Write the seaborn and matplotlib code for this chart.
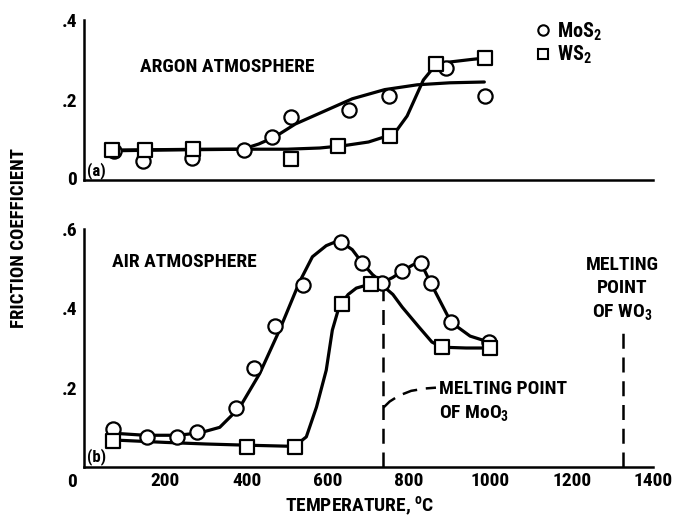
import matplotlib
matplotlib.use("Agg")
import matplotlib.pyplot as plt
from matplotlib import font_manager
from matplotlib.lines import Line2D
import seaborn as sns

# ---- measured friction data ------------------------------------------------
# (a) argon atmosphere
argon_mos2_t = [75, 145, 265, 393, 463, 510, 653, 751, 891, 987]
argon_mos2_f = [0.072, 0.048, 0.055, 0.074, 0.108, 0.158, 0.175, 0.21, 0.28, 0.21]
argon_ws2_t = [70, 150, 267, 510, 624, 753, 866, 987]
argon_ws2_f = [0.074, 0.076, 0.078, 0.052, 0.085, 0.11, 0.29, 0.305]

# (b) air atmosphere
air_mos2_t = [72, 154, 228, 279, 374, 419, 469, 538, 633, 685, 734, 783, 829, 853, 903, 996]
air_mos2_f = [0.096, 0.076, 0.076, 0.088, 0.15, 0.25, 0.355, 0.46, 0.567, 0.514,
              0.463, 0.494, 0.514, 0.464, 0.365, 0.315]
air_ws2_t = [72, 400, 518, 636, 707, 881, 1000]
air_ws2_f = [0.066, 0.05, 0.05, 0.41, 0.462, 0.302, 0.30]

# ---- faired curves through the data ----------------------------------------
argon_mos2_fit_t = [75, 200, 300, 390, 430, 470, 520, 580, 660, 740, 820, 900, 985]
argon_mos2_fit_f = [0.075, 0.076, 0.077, 0.077, 0.09, 0.108, 0.14, 0.167, 0.203,
                    0.226, 0.238, 0.243, 0.245]
argon_ws2_fit_t = [70, 200, 300, 400, 500, 580, 640, 700, 740, 770, 795, 815, 835,
                   855, 870, 900, 950, 987]
argon_ws2_fit_f = [0.073, 0.075, 0.076, 0.077, 0.077, 0.08, 0.086, 0.095, 0.108,
                   0.125, 0.16, 0.205, 0.25, 0.275, 0.288, 0.295, 0.301, 0.305]

air_mos2_fit_t = [75, 150, 230, 285, 334, 383, 432, 481, 530, 562, 596, 615, 633,
                  660, 685, 710, 734, 760, 783, 810, 829, 853, 903, 950, 996]
air_mos2_fit_f = [0.085, 0.08, 0.08, 0.086, 0.1, 0.15, 0.235, 0.345, 0.466, 0.53,
                  0.558, 0.566, 0.567, 0.548, 0.514, 0.485, 0.465, 0.478, 0.494,
                  0.51, 0.514, 0.464, 0.365, 0.33, 0.315]
air_ws2_fit_t = [75, 200, 300, 400, 518, 547, 572, 596, 611, 628, 650, 670, 707,
                 734, 760, 783, 824, 856, 881, 940, 1000]
air_ws2_fit_f = [0.068, 0.062, 0.058, 0.055, 0.052, 0.076, 0.151, 0.244, 0.345,
                 0.405, 0.435, 0.451, 0.462, 0.458, 0.435, 0.403, 0.353, 0.315,
                 0.302, 0.30, 0.30]

# oxide melting points (as marked on the chart) and the leader to the MoO3 note
moo3_melt = 735
moo3_line_top = 0.455
wo3_melt = 1325
wo3_line_top = 0.345
leader_t = [737, 752, 775, 805, 840, 866]
leader_f = [0.15, 0.165, 0.18, 0.192, 0.198, 0.2]

x_ticks = [200, 400, 600, 800, 1000, 1200, 1400]

# ---- style -------------------------------------------------------------------
INK = "black"
sns.set_theme(style="white", rc={
    "text.color": INK, "axes.labelcolor": INK,
    "xtick.color": INK, "ytick.color": INK, "axes.edgecolor": INK,
})

# prefer a narrow bold sans for the lettering
installed = {f.name for f in font_manager.fontManager.ttflist}
narrow = [n for n in ("Liberation Sans Narrow", "Roboto Condensed",
                      "DejaVu Sans Condensed", "Open Sans Condensed")
          if n in installed]
if narrow:
    family = narrow[0]
    FS = 14
else:
    family = "Liberation Sans" if "Liberation Sans" in installed else "DejaVu Sans"
    FS = 12.5
plt.rcParams["font.family"] = [family, "DejaVu Sans"]
plt.rcParams["font.weight"] = "bold"
plt.rcParams["font.stretch"] = "condensed"
plt.rcParams["mathtext.fontset"] = "custom"
plt.rcParams["mathtext.rm"] = f"{family}:bold"
plt.rcParams["mathtext.it"] = f"{family}:bold"
plt.rcParams["mathtext.bf"] = f"{family}:bold"

LW = 2.3

fig = plt.figure(figsize=(6.77, 5.18), dpi=100)
W, H = 677, 518
ax_a = fig.add_axes([84 / W, 1 - 180 / H, 569 / W, 160 / H])
ax_b = fig.add_axes([84 / W, 1 - 467 / H, 569 / W, 238 / H])


def frame(ax, ymax, yticks):
    ax.set_xlim(0, 1400)
    ax.set_ylim(0, ymax)
    for side in ("top", "right"):
        ax.spines[side].set_visible(False)
    for side in ("left", "bottom"):
        ax.spines[side].set_linewidth(1.8)
        ax.spines[side].set_color(INK)
    ax.set_xticks(x_ticks)
    ax.set_yticks(yticks)
    ax.set_yticklabels(["." + f"{v:.1f}".split(".")[1] for v in yticks])
    ax.tick_params(axis="x", direction="in", length=17, width=1.3, color=INK,
                   labelsize=FS, pad=3.5)
    ax.tick_params(axis="y", direction="in", length=17, width=2.2, color=INK,
                   labelsize=FS, pad=5)
    ax.set_xlabel("")
    ax.set_ylabel("")
    ax.set_facecolor("white")


def draw(ax, t, f, fit_t, fit_f, marker, size):
    sns.lineplot(x=fit_t, y=fit_f, ax=ax, color=INK, lw=LW, sort=False,
                 estimator=None, solid_joinstyle="round", solid_capstyle="round")
    sns.scatterplot(x=t, y=f, ax=ax, marker=marker, s=size, facecolor="white",
                    edgecolor=INK, linewidth=1.6, zorder=3, clip_on=False)


# (a) argon
draw(ax_a, argon_mos2_t, argon_mos2_f, argon_mos2_fit_t, argon_mos2_fit_f, "o", 105)
draw(ax_a, argon_ws2_t, argon_ws2_f, argon_ws2_fit_t, argon_ws2_fit_f, "s", 100)
frame(ax_a, 0.4, [0.2, 0.4])
ax_a.set_xticklabels([])
ax_a.text(-0.012, 0, "0", transform=ax_a.get_yaxis_transform(), ha="right",
          va="center", fontsize=FS)
ax_a.text(138, 0.283, "ARGON ATMOSPHERE", ha="left", va="center", fontsize=FS)
ax_a.text(8, 0.024, "(a)", ha="left", va="center", fontsize=FS - 2)

handles = [
    Line2D([], [], ls="", marker="o", ms=7.5, mfc="white", mec=INK, mew=1.5, label="MoS$_2$"),
    Line2D([], [], ls="", marker="s", ms=7.5, mfc="white", mec=INK, mew=1.5, label="WS$_2$"),
]
ax_a.legend(handles=handles, loc="upper left", bbox_to_anchor=(0.78, 1.06),
            frameon=False, handlelength=0.5, handletextpad=0.45, labelspacing=0.05,
            borderpad=0, prop={"size": FS + 0.5, "weight": "bold"})

# (b) air
draw(ax_b, air_mos2_t, air_mos2_f, air_mos2_fit_t, air_mos2_fit_f, "o", 105)
draw(ax_b, air_ws2_t, air_ws2_f, air_ws2_fit_t, air_ws2_fit_f, "s", 100)
frame(ax_b, 0.6, [0.2, 0.4, 0.6])
ax_b.set_xticklabels([str(v) for v in x_ticks])
ax_b.text(69, 0.517, "AIR ATMOSPHERE", ha="left", va="center", fontsize=FS)
ax_b.text(8, 0.027, "(b)", ha="left", va="center", fontsize=FS - 2)

dash = dict(color=INK, lw=1.8, dashes=(6, 3.5))
ax_b.plot([moo3_melt, moo3_melt], [0, moo3_line_top], **dash)
ax_b.plot([wo3_melt, wo3_melt], [0, wo3_line_top], **dash)
ax_b.plot(leader_t, leader_f, **dash)
ax_b.text(874, 0.197, "MELTING POINT", ha="left", va="center", fontsize=FS)
ax_b.text(874, 0.137, "OF MoO$_3$", ha="left", va="center", fontsize=FS)
ax_b.text(wo3_melt, 0.509, "MELTING", ha="center", va="center", fontsize=FS)
ax_b.text(wo3_melt, 0.451, "POINT", ha="center", va="center", fontsize=FS)
ax_b.text(wo3_melt, 0.39, "OF WO$_3$", ha="center", va="center", fontsize=FS)

# shared origin label under the lower panel
fig.text(72 / W, 1 - 482 / H, "0", ha="center", va="center", fontsize=FS)
fig.text(360 / W, 1 - 506 / H, "TEMPERATURE, $^\\mathrm{o}$C", ha="center",
         va="center", fontsize=FS)
fig.text(19 / W, 1 - 238 / H, "FRICTION COEFFICIENT", ha="center", va="center",
         rotation=90, fontsize=FS - 0.5)

fig.savefig("out.png", dpi=100, facecolor="white")
